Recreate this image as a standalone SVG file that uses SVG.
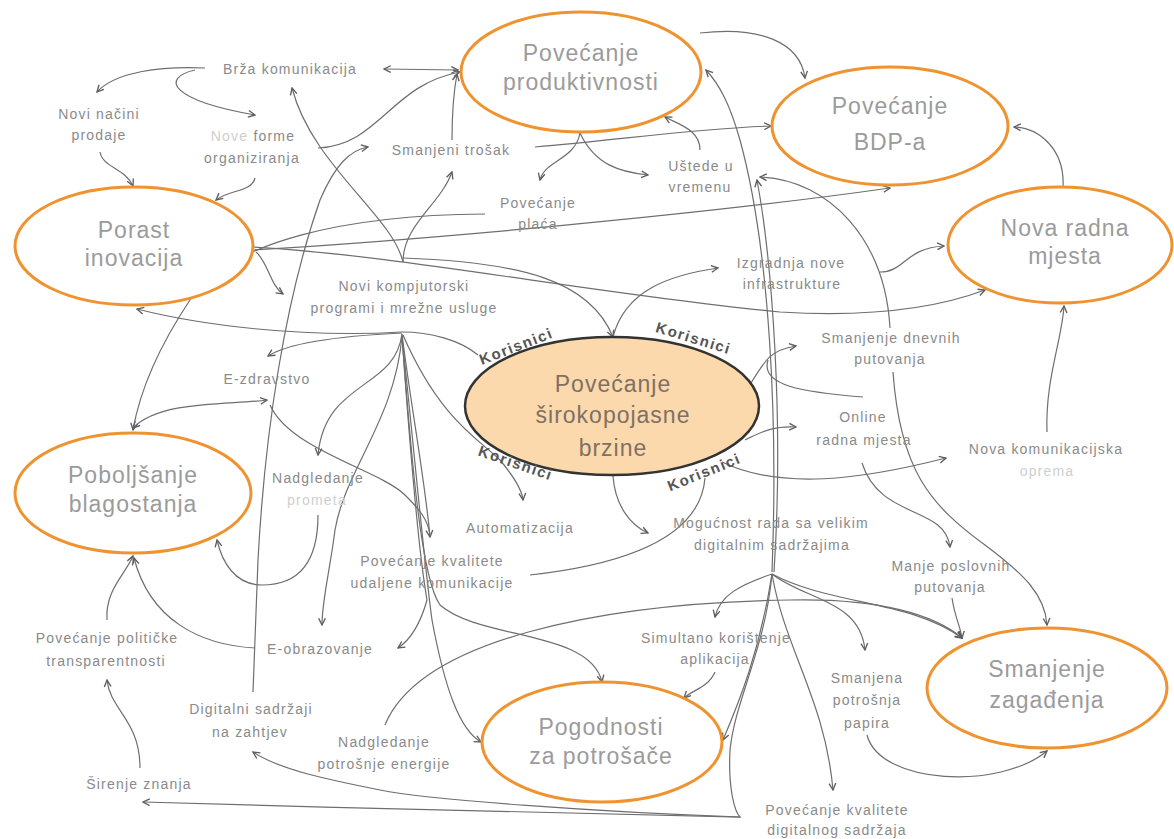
<svg xmlns="http://www.w3.org/2000/svg" width="1174" height="839" viewBox="0 0 1174 839">
<style>
.bg{fill:#ffffff}
.e{fill:#ffffff;stroke:#ef9330;stroke-width:3}
.ec{fill:#fbd9ad;stroke:#333333;stroke-width:2.5}
.n{font-family:"Liberation Sans",Arial,sans-serif;font-size:23px;fill:#9b9b9b;text-anchor:middle;letter-spacing:1px}
.nc{font-family:"Liberation Sans",Arial,sans-serif;font-size:23px;fill:#7f7063;text-anchor:middle;letter-spacing:1px}
.l{font-family:"Liberation Sans",Arial,sans-serif;font-size:14px;fill:#8a8a8a;text-anchor:middle;letter-spacing:1.2px}
.f{fill:#cfcfcf}
.k{font-family:"Liberation Sans",Arial,sans-serif;font-size:15px;font-weight:bold;fill:#555555;text-anchor:middle;letter-spacing:1.5px}
.c path{fill:none;stroke:#6e6e6e;stroke-width:1.2}
.c .a{marker-end:url(#ar)}
.c .b{marker-end:url(#ar);marker-start:url(#ar)}
</style>
<defs>
<marker id="ar" viewBox="0 0 10 10" refX="9" refY="5" markerWidth="7" markerHeight="7" orient="auto-start-reverse" markerUnits="strokeWidth">
<path d="M1,1 L9,5 L1,9" fill="none" stroke="#5e5e5e" stroke-width="1.6"/>
</marker>
</defs>
<rect class="bg" x="0" y="0" width="1174" height="839"/>
<g id="connectors" class="c">
<path class="a" d="M205,68 C160,66 115,72 97,92"/>
<path class="a" d="M195,70 C160,78 170,100 255,115"/>
<path class="a" d="M100,152 C103,168 125,168 133,186"/>
<path class="a" d="M255,178 C252,192 228,190 216,200"/>
<path class="b" d="M458,70 L384,69"/>
<path class="a" d="M318,148 C380,145 390,85 460,72"/>
<path class="a" d="M452,140 C452,110 454,90 457,74"/>
<path class="a" d="M403,262 C403,225 440,205 452,172"/>
<path class="a" d="M403,262 C392,215 312,165 292,88"/>
<path class="a" d="M253,692 L258,560 C265,430 285,300 320,200 C335,165 350,150 368,147"/>
<path class="a" d="M700,33 C760,26 800,42 805,78"/>
<path class="a" d="M535,147 C620,140 700,128 771,126"/>
<path class="a" d="M580,133 C575,160 545,160 540,180"/>
<path class="a" d="M580,133 C595,165 620,172 648,175"/>
<path class="a" d="M700,150 C700,130 680,125 665,117"/>
<path class="a" d="M253,250 C420,240 700,215 890,188"/>
<path class="a" d="M485,214 C350,215 230,240 190,300 C160,345 140,390 133,430"/>
<path class="a" d="M253,247 C400,255 600,295 780,312 C880,318 945,305 985,290"/>
<path class="a" d="M403,258 C520,262 590,280 613,337"/>
<path class="a" d="M613,337 C625,290 670,275 718,268"/>
<path class="a" d="M880,272 C905,272 905,248 944,246"/>
<path class="a" d="M1063,187 C1065,150 1040,128 1014,127"/>
<path class="a" d="M1047,432 C1045,380 1062,340 1064,306"/>
<path class="a" d="M256,252 C268,262 270,285 283,294"/>
<path class="a" d="M402,332 C300,338 200,325 137,309"/>
<path class="a" d="M402,333 C340,336 290,342 268,356"/>
<path class="a" d="M402,334 C395,390 325,380 318,455"/>
<path class="a" d="M402,334 C410,400 425,480 430,537"/>
<path d="M402,332 C430,332 460,340 478,355"/>
<path class="a" d="M403,335 C440,420 480,440 500,460 C515,478 522,490 523,500"/>
<path class="a" d="M402,336 C395,420 345,470 335,530 C330,570 322,600 322,625"/>
<path class="a" d="M402,336 C410,450 420,560 427,600 C420,625 410,640 398,648"/>
<path class="a" d="M402,336 C415,460 425,570 432,620 C445,690 460,730 481,742"/>
<path class="a" d="M402,336 C412,470 422,580 440,605 C480,640 590,630 602,682"/>
<path class="b" d="M267,400 C230,405 160,400 133,428"/>
<path d="M270,405 C290,450 380,470 405,495 C420,510 428,520 430,535"/>
<path class="a" d="M318,515 C318,560 300,585 262,585 C235,585 222,562 217,540"/>
<path class="a" d="M255,648 C200,645 150,620 134,558"/>
<path class="a" d="M107,620 C105,590 125,575 133,556"/>
<path class="a" d="M140,768 C140,720 110,710 107,680"/>
<path class="a" d="M748,388 C765,360 770,350 796,346"/>
<path d="M768,360 C760,385 800,392 863,397"/>
<path class="a" d="M745,440 C765,430 775,426 796,427"/>
<path class="a" d="M722,462 C780,490 860,480 946,458"/>
<path class="a" d="M862,463 C880,520 945,505 950,547"/>
<path class="a" d="M952,598 C955,618 960,625 962,638"/>
<path class="a" d="M890,328 C885,240 830,180 760,177"/>
<path class="a" d="M893,372 C900,470 930,505 985,545 C1025,575 1045,595 1047,625"/>
<path class="a" d="M613,476 C615,505 630,525 648,533"/>
<path d="M705,478 C700,540 620,565 530,575"/>
<path class="a" d="M772,572 C778,420 770,250 740,140 C730,105 720,85 706,70"/>
<path class="a" d="M774,572 C784,420 772,260 757,180"/>
<path class="a" d="M772,574 C740,585 720,595 715,617"/>
<path class="a" d="M772,574 C805,600 860,600 865,650"/>
<path class="a" d="M772,574 C830,605 910,600 962,638"/>
<path class="a" d="M772,574 C785,650 825,700 833,790"/>
<path class="a" d="M772,574 C760,650 740,700 723,740"/>
<path class="a" d="M772,574 C765,650 735,700 730,750 C728,790 735,812 740,817 C600,815 350,808 143,802"/>
<path class="a" d="M740,817 C600,812 430,800 380,790 C330,780 280,770 253,752"/>
<path class="a" d="M385,725 C420,640 600,603 790,600 C880,598 935,615 962,638"/>
<path class="a" d="M715,672 C708,688 692,690 684,698"/>
<path class="a" d="M867,735 C880,785 1000,790 1047,751"/>
</g>
<g id="n-produktivnost"><ellipse class="e" cx="581" cy="72" rx="120" ry="60"/><text class="n" x="581" y="61">Povećanje</text><text class="n" x="581" y="90">produktivnosti</text></g>
<g id="n-bdp"><ellipse class="e" cx="890" cy="126" rx="118" ry="59"/><text class="n" x="890" y="114">Povećanje</text><text class="n" x="890" y="150">BDP-a</text></g>
<g id="n-nova-radna"><ellipse class="e" cx="1060" cy="245" rx="112" ry="58"/><text class="n" x="1065" y="236">Nova radna</text><text class="n" x="1065" y="264">mjesta</text></g>
<g id="n-porast"><ellipse class="e" cx="134" cy="246" rx="119" ry="59"/><text class="n" x="134" y="238">Porast</text><text class="n" x="134" y="266">inovacija</text></g>
<g id="n-blagostanje"><ellipse class="e" cx="133" cy="493" rx="118" ry="60"/><text class="n" x="133" y="483">Poboljšanje</text><text class="n" x="133" y="512">blagostanja</text></g>
<g id="n-pogodnosti"><ellipse class="e" cx="602" cy="742" rx="120" ry="60"/><text class="n" x="601" y="735">Pogodnosti</text><text class="n" x="601" y="764">za potrošače</text></g>
<g id="n-zagadjenje"><ellipse class="e" cx="1047" cy="688" rx="120" ry="60"/><text class="n" x="1047" y="677">Smanjenje</text><text class="n" x="1047" y="708">zagađenja</text></g>
<g id="n-centar"><ellipse class="ec" cx="612" cy="406" rx="147" ry="69"/><text class="nc" x="613" y="392">Povećanje</text><text class="nc" x="613" y="423">širokopojasne</text><text class="nc" x="613" y="456">brzine</text>
<text class="k" transform="translate(518,351) rotate(-21)">Korisnici</text>
<text class="k" transform="translate(692,343) rotate(17)">Korisnici</text>
<text class="k" transform="translate(514,468) rotate(19)">Korisnici</text>
<text class="k" transform="translate(706,477) rotate(-22)">Korisnici</text></g>
<g id="t-brza"><text class="l" x="290" y="74">Brža komunikacija</text></g>
<g id="t-nacini"><text class="l" x="99" y="119">Novi načini</text><text class="l" x="99" y="140">prodaje</text></g>
<g id="t-forme"><text class="l" x="253" y="141"><tspan class="f">Nove</tspan> forme</text><text class="l" x="252" y="163">organiziranja</text></g>
<g id="t-trosak"><text class="l" x="451" y="155">Smanjeni trošak</text></g>
<g id="t-placa"><text class="l" x="538" y="208">Povećanje</text><text class="l" x="538" y="229">plaća</text></g>
<g id="t-ustede"><text class="l" x="701" y="171">Uštede u</text><text class="l" x="700" y="192">vremenu</text></g>
<g id="t-programi"><text class="l" x="404" y="291">Novi kompjutorski</text><text class="l" x="404" y="313">programi i mrežne usluge</text></g>
<g id="t-infra"><text class="l" x="791" y="268">Izgradnja nove</text><text class="l" x="792" y="289">infrastrukture</text></g>
<g id="t-dnevna"><text class="l" x="891" y="343">Smanjenje dnevnih</text><text class="l" x="890" y="364">putovanja</text></g>
<g id="t-ezdravstvo"><text class="l" x="267" y="384">E-zdravstvo</text></g>
<g id="t-online"><text class="l" x="863" y="422">Online</text><text class="l" x="864" y="445">radna mjesta</text></g>
<g id="t-oprema"><text class="l" x="1046" y="454">Nova komunikacijska</text><text class="l f" x="1047" y="476">oprema</text></g>
<g id="t-promet"><text class="l" x="318" y="483">Nadgledanje</text><text class="l f" x="317" y="505">prometa</text></g>
<g id="t-automatizacija"><text class="l" x="520" y="533">Automatizacija</text></g>
<g id="t-mogucnost"><text class="l" x="771" y="528">Mogućnost rada sa velikim</text><text class="l" x="772" y="550">digitalnim sadržajima</text></g>
<g id="t-udaljena"><text class="l" x="432" y="566">Povećanje kvalitete</text><text class="l" x="432" y="588">udaljene komunikacije</text></g>
<g id="t-poslovna"><text class="l" x="951" y="571">Manje poslovnih</text><text class="l" x="950" y="592">putovanja</text></g>
<g id="t-politicka"><text class="l" x="107" y="643">Povećanje političke</text><text class="l" x="106" y="666">transparentnosti</text></g>
<g id="t-eobrazovanje"><text class="l" x="320" y="654">E-obrazovanje</text></g>
<g id="t-simultano"><text class="l" x="716" y="643">Simultano korištenje</text><text class="l" x="715" y="664">aplikacija</text></g>
<g id="t-papir"><text class="l" x="867" y="683">Smanjena</text><text class="l" x="867" y="705">potrošnja</text><text class="l" x="867" y="728">papira</text></g>
<g id="t-zahtjev"><text class="l" x="251" y="714">Digitalni sadržaji</text><text class="l" x="250" y="737">na zahtjev</text></g>
<g id="t-energija"><text class="l" x="384" y="747">Nadgledanje</text><text class="l" x="384" y="769">potrošnje energije</text></g>
<g id="t-sirenje"><text class="l" x="139" y="789">Širenje znanja</text></g>
<g id="t-digitalni"><text class="l" x="837" y="815">Povećanje kvalitete</text><text class="l" x="837" y="835">digitalnog sadržaja</text></g>
</svg>
